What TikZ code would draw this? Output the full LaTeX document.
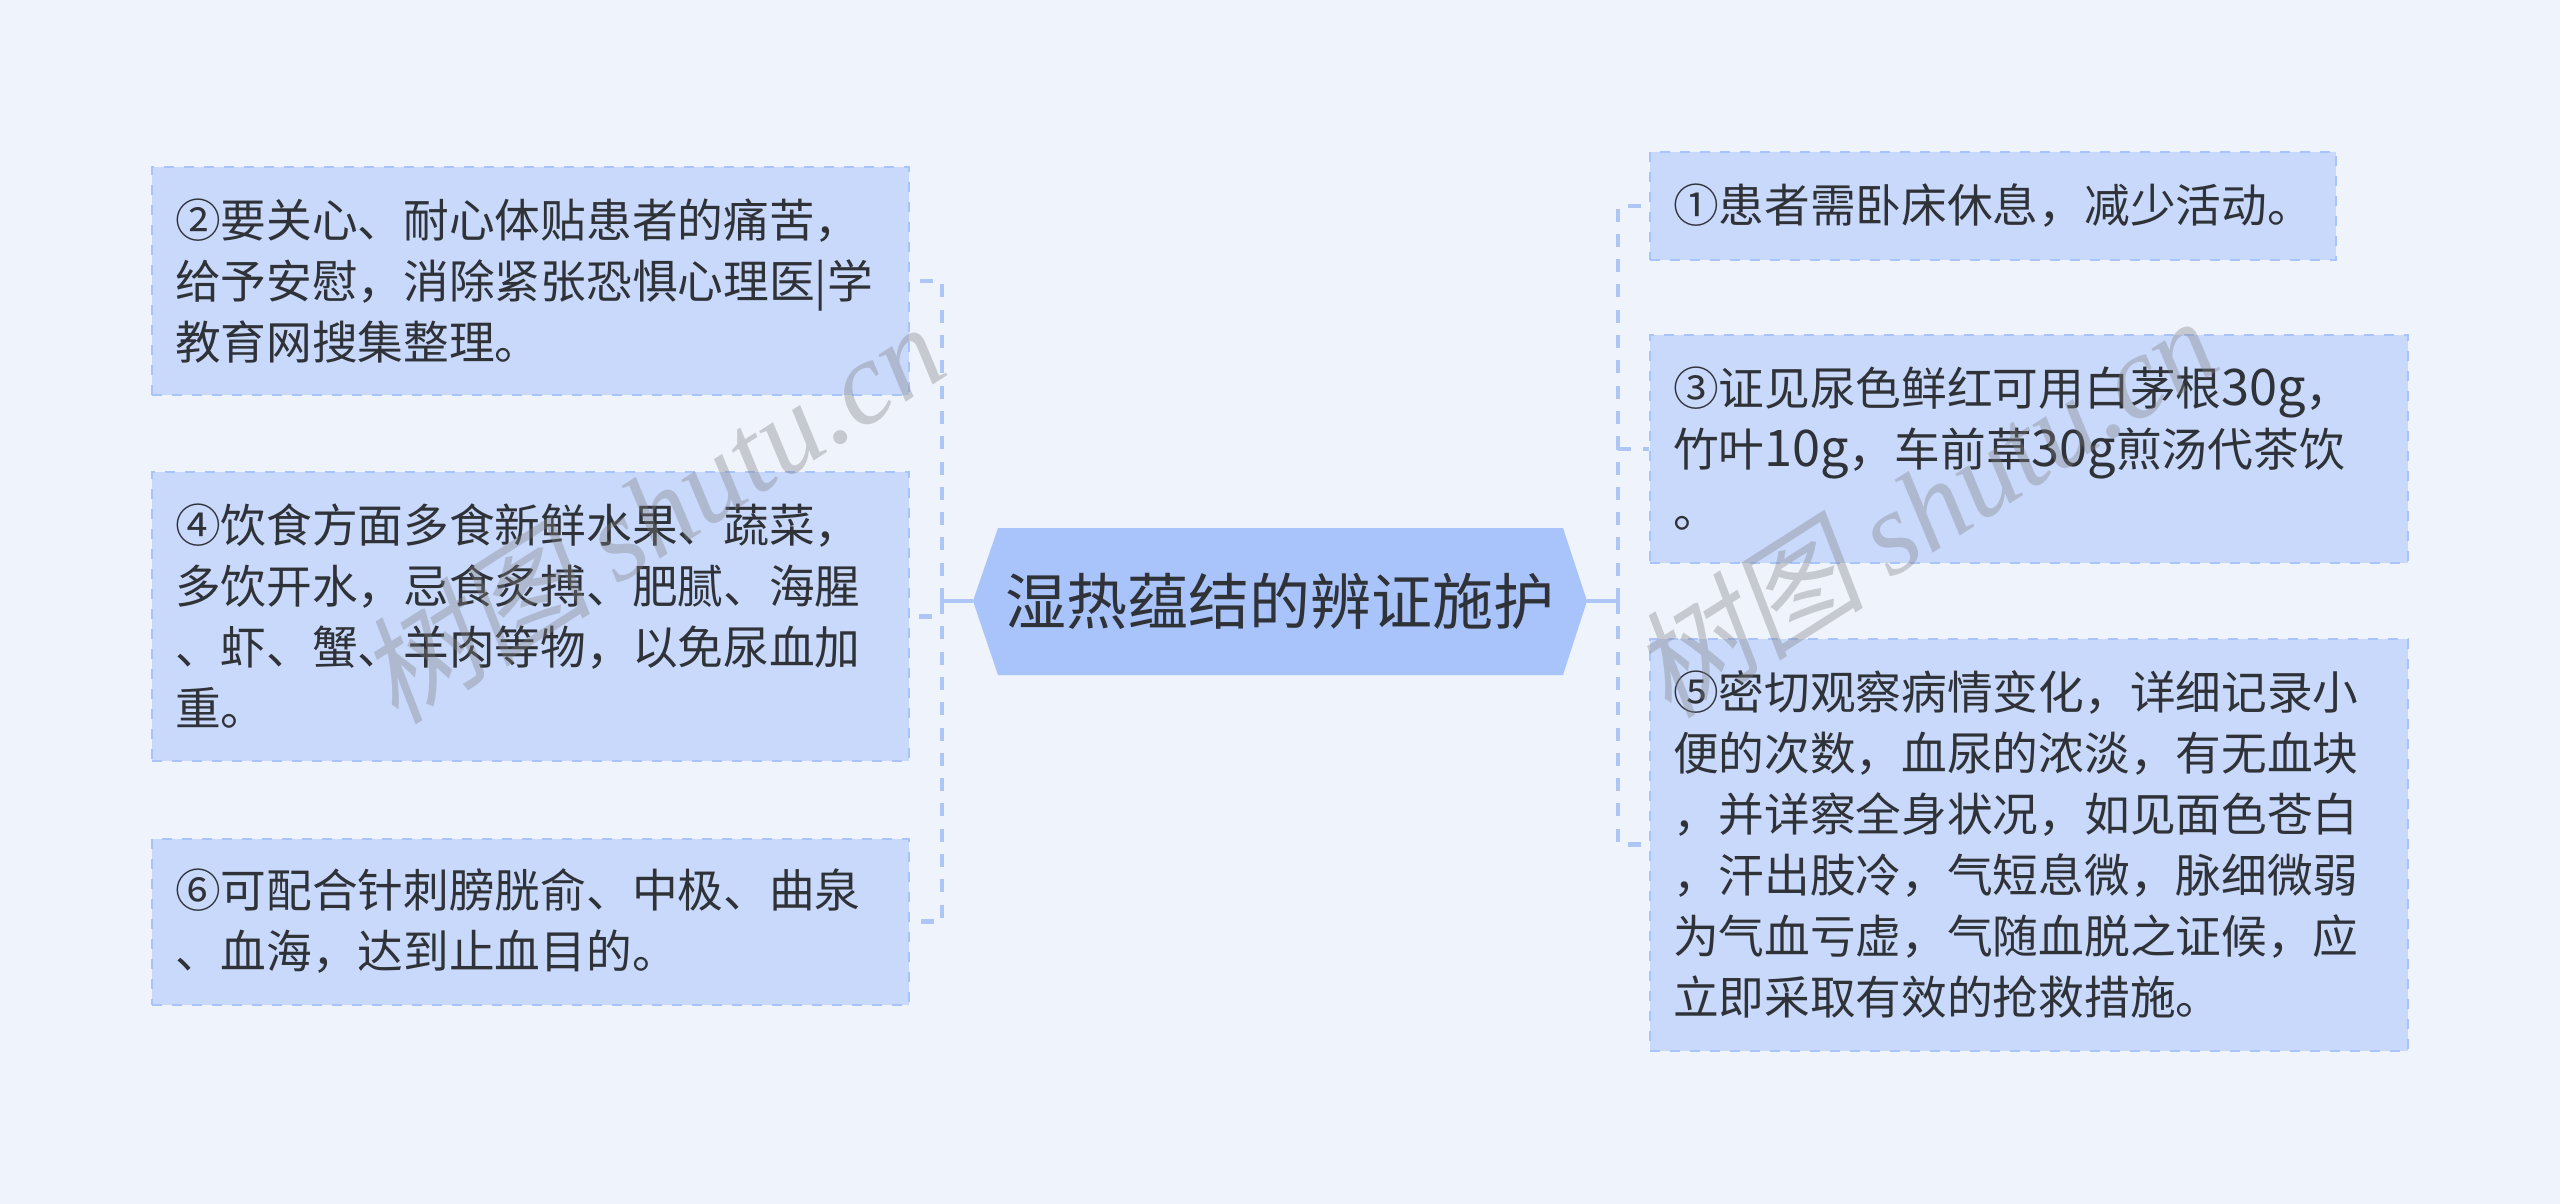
\documentclass[tikz,border=0pt]{standalone}
\usepackage{fontspec}
\setmainfont{Noto Sans CJK SC}
\newfontfamily\wmlatin{Liberation Serif}[ItalicFont=* Italic]
\newfontfamily\wmcjk{Noto Sans CJK SC}[FakeSlant=0.2]
\newcommand{\latnum}[1]{{\fontsize{50.5}{61}\selectfont #1}}
\definecolor{bgc}{HTML}{EEF3FC}
\definecolor{boxc}{HTML}{C9D9FC}
\definecolor{rootc}{HTML}{A9C3FB}
\definecolor{linec}{HTML}{AEC6F6}
\definecolor{txtc}{HTML}{2F3237}
\tikzset{
  leaf/.style={draw=rootc,fill=boxc,line width=2pt,dash pattern=on 10pt off 10pt,
    rectangle,align=left,inner xsep=23pt,inner ysep=0pt,text=txtc,
    font=\fontsize{45.7}{61}\selectfont},
  rootbox/.style={text=txtc,font=\fontsize{61}{70}\selectfont},
  link/.style={draw=linec,line width=4.5pt,dash pattern=on 13pt off 12.3pt},
  stem/.style={draw=linec,line width=4.5pt},
  wm/.style={text=gray,opacity=0.36,rotate=32.5,font=\fontsize{118}{130}\selectfont}
}
\begin{document}
\begin{tikzpicture}[x=1pt,y=-1pt]
\useasboundingbox (0,0) rectangle (2560,1204);
\fill[bgc] (0,0) rectangle (2560,1204);
% root
\fill[rootc] (973,601) -- (998,528) -- (1563,528) -- (1587,601) -- (1563,675) -- (998,675) -- cycle;
\node[rootbox] (root) at (1280,601) {湿热蕴结的辨证施护};
\coordinate (rootw) at (973,601);
\coordinate (roote) at (1587,601);
\coordinate (lt) at (942,601);
\coordinate (rt) at (1618,601);
% left
\node[leaf,minimum width=757pt,minimum height=228pt,text width=711pt] (b2) at (530.5,281)
 {②要关心、耐心体贴患者的痛苦，\\给予安慰，消除紧张恐惧心理医|学\\教育网搜集整理。};
\node[leaf,minimum width=757pt,minimum height=289pt,text width=711pt] (b4) at (530.5,616.5)
 {④饮食方面多食新鲜水果、蔬菜，\\多饮开水，忌食炙搏、肥腻、海腥\\、虾、蟹、羊肉等物，以免尿血加\\重。};
\node[leaf,minimum width=757pt,minimum height=166pt,text width=711pt] (b6) at (530.5,921.5)
 {⑥可配合针刺膀胱俞、中极、曲泉\\、血海，达到止血目的。};
% right
\node[leaf,minimum width=686pt,minimum height=108pt,text width=640pt] (b1) at (1993,206)
 {①患者需卧床休息，减少活动。};
\node[leaf,minimum width=758pt,minimum height=228pt,text width=712pt] (b3) at (2029,449)
 {③证见尿色鲜红可用白茅根\latnum{30g}，\\竹叶\latnum{10g}，车前草\latnum{30g}煎汤代茶饮\\。};
\node[leaf,minimum width=758pt,minimum height=412pt,text width=712pt] (b5) at (2029,844.5)
 {⑤密切观察病情变化，详细记录小\\便的次数，血尿的浓淡，有无血块\\，并详察全身状况，如见面色苍白\\，汗出肢冷，气短息微，脉细微弱\\为气血亏虚，气随血脱之证候，应\\立即采取有效的抢救措施。};
% connectors
\draw[stem] (rootw) -- (lt);
\draw[stem] (roote) -- (rt);
\draw[link] (lt) |- (b2.east);
\draw[link] (lt) |- (b4.east);
\draw[link] (lt) |- (b6.east);
\draw[link] (rt) |- (b1.west);
\draw[link] (rt) |- (b3.west);
\draw[link] (rt) |- (b5.west);
% watermarks
\node[wm] (wm1) at (650,512) {{\wmcjk 树图} {\wmlatin\itshape shutu.cn}};
\node[wm] (wm2) at (1923,506) {{\wmcjk 树图} {\wmlatin\itshape shutu.cn}};
\end{tikzpicture}
\end{document}
